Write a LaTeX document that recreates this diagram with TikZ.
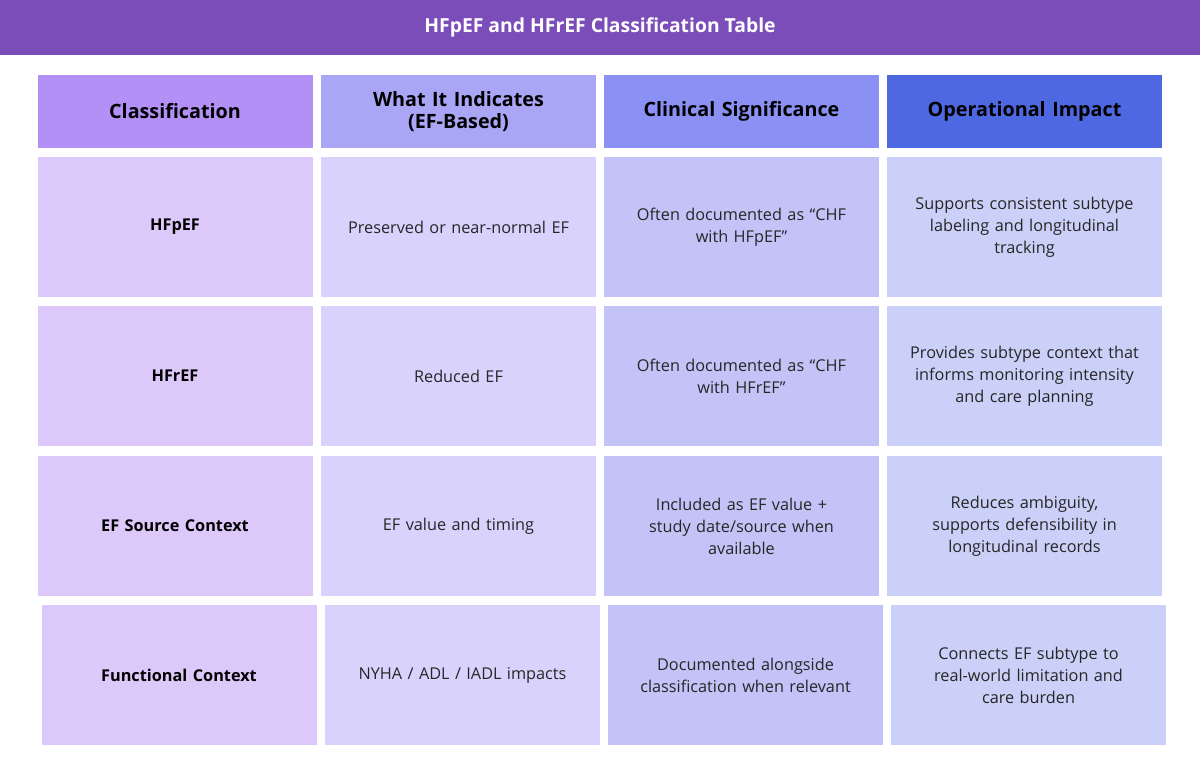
\documentclass[tikz,border=0pt]{standalone}
\usepackage{fontspec}
\setmainfont{Open Sans}
\begin{document}
\begin{tikzpicture}[x=0.75pt,y=-0.75pt,
  cell/.style={draw=none,minimum width=206.25pt,minimum height=105pt,align=center,text width=190pt,font=\fontsize{12.2}{16.5}\selectfont,text=black!85},
  head/.style={cell,minimum height=54.75pt,font=\bfseries\fontsize{14.8}{17}\selectfont,text=black},
  lab/.style={cell,font=\bfseries\fontsize{12.2}{16.5}\selectfont,text=black}]
\definecolor{tbar}{HTML}{7B4DB8}
\definecolor{ha}{HTML}{B290F6}\definecolor{hb}{HTML}{AAA6F6}
\definecolor{hc}{HTML}{8A90F4}\definecolor{hd}{HTML}{4E68E2}
\definecolor{ba}{HTML}{DCC9FA}\definecolor{bb}{HTML}{D9D2FC}
\definecolor{bc}{HTML}{C3C3F8}\definecolor{bd}{HTML}{CBD0F8}
\useasboundingbox (0,0) rectangle (1200,760);
\fill[white] (0,0) rectangle (1200,760);
\fill[tbar] (0,0) rectangle (1200,55);
\node[text=white,font=\bfseries\fontsize{14.5}{17}\selectfont] (title) at (600,27) {HFpEF and HFrEF Classification Table};
% headers
\node[head,fill=ha] (h1) at (175,111.5) {Classification};
\node[head,fill=hb] (h2) at (458.5,111.5) {What It Indicates\\(EF-Based)};
\node[head,fill=hc] (h3) at (741.5,111.5) {Clinical Significance};
\node[head,fill=hd] (h4) at (1024.5,111.5) {Operational Impact};
% row 1
\node[lab,fill=ba] (r1a) at (175,227) {HFpEF};
\node[cell,fill=bb] (r1b) at (458.5,227) {Preserved or near-normal EF};
\node[cell,fill=bc] (r1c) at (741.5,227) {Often documented as “CHF\\with HFpEF”};
\node[cell,fill=bd] (r1d) at (1024.5,227) {Supports consistent subtype\\labeling and longitudinal\\tracking};
% row 2
\node[lab,fill=ba] (r2a) at (175,376) {HFrEF};
\node[cell,fill=bb] (r2b) at (458.5,376) {Reduced EF};
\node[cell,fill=bc] (r2c) at (741.5,376) {Often documented as “CHF\\with HFrEF”};
\node[cell,fill=bd] (r2d) at (1024.5,376) {Provides subtype context that\\informs monitoring intensity\\and care planning};
% row 3
\node[lab,fill=ba] (r3a) at (175,526) {EF Source Context};
\node[cell,fill=bb] (r3b) at (458.5,526) {EF value and timing};
\node[cell,fill=bc] (r3c) at (741.5,526) {Included as EF value +\\study date/source when\\available};
\node[cell,fill=bd] (r3d) at (1024.5,526) {Reduces ambiguity,\\supports defensibility in\\longitudinal records};
% row 4
\node[lab,fill=ba] (r4a) at (179,675) {Functional Context};
\node[cell,fill=bb] (r4b) at (462.5,675) {NYHA / ADL / IADL impacts};
\node[cell,fill=bc] (r4c) at (745.5,675) {Documented alongside\\classification when relevant};
\node[cell,fill=bd] (r4d) at (1028.5,675) {Connects EF subtype to\\real-world limitation and\\care burden};
\end{tikzpicture}
\end{document}
